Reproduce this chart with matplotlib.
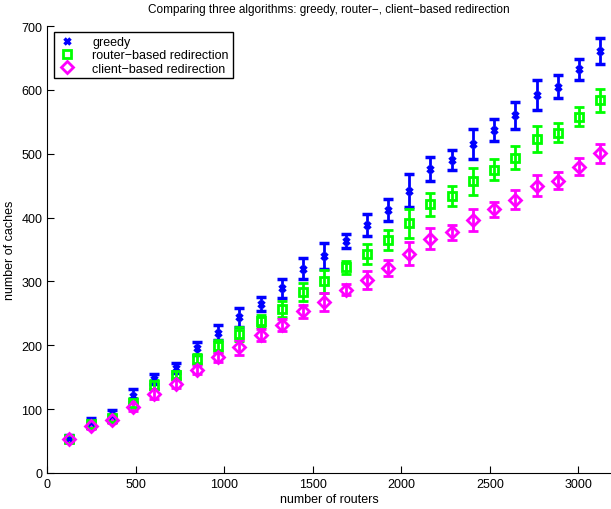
import matplotlib.pyplot as plt
from matplotlib.lines import Line2D
import numpy as np

plt.rcParams['font.family'] = ['Liberation Sans', 'DejaVu Sans']

# number of routers
routers = np.arange(125, 3126, 120)

greedy = [55, 80, 91, 121, 147, 164, 195, 220, 244, 265, 289, 320, 340,
          364, 388, 412, 442, 476, 490, 515, 537, 560, 592, 605, 632, 661]
greedy_err = [4, 6, 7, 10, 8, 8, 10, 12, 15, 11, 15, 16, 20,
              11, 17, 17, 26, 19, 16, 24, 17, 21, 23, 18, 17, 21]
router = [54, 76, 86, 110, 138, 154, 179, 199, 218, 238, 257, 283, 300,
          322, 343, 365, 391, 421, 434, 457, 475, 494, 523, 533, 558, 584]
router_err = [4, 5, 5, 8, 7, 6, 8, 9, 11, 9, 13, 14, 18,
              10, 16, 15, 23, 18, 16, 21, 16, 18, 21, 15, 15, 18]
client = [53, 74, 83, 104, 124, 139, 162, 181, 197, 216, 232, 253, 268,
          287, 302, 321, 343, 367, 377, 396, 413, 428, 450, 458, 480, 501]
client_err = [4, 5, 5, 7, 8, 6, 7, 7, 12, 10, 9, 10, 14,
              9, 14, 12, 18, 16, 12, 17, 12, 15, 16, 14, 14, 15]

fig = plt.figure(figsize=(6.11, 5.10), dpi=100)
ax = fig.add_axes([0.0774, 0.0706, 0.9226, 0.8764])

blue = (0, 0, 1)
green = (0, 1, 0)
magenta = (1, 0, 1)

ax.errorbar(routers, greedy, yerr=greedy_err, fmt='x', color=blue,
            ms=4, mew=2.5, elinewidth=2, capsize=3.6, capthick=2)
ax.errorbar(routers, router, yerr=router_err, fmt='s', color=green,
            mfc='none', ms=5.5, mew=2, elinewidth=2, capsize=3.6, capthick=2)
ax.errorbar(routers, client, yerr=client_err, fmt='D', color=magenta,
            mfc='none', ms=6, mew=2, elinewidth=2, capsize=3.6, capthick=2)

handles = [
    Line2D([], [], ls='none', marker='x', color=blue, ms=4, mew=2.5),
    Line2D([], [], ls='none', marker='s', color=green, mfc='none', ms=5.5, mew=2),
    Line2D([], [], ls='none', marker='D', color=magenta, mfc='none', ms=6, mew=2),
]
labels = ['greedy', 'router\u2212based redirection', 'client\u2212based redirection']

ax.set_xlim(0, 3185)
ax.set_ylim(0, 700)
ax.set_xticks(np.arange(0, 3001, 500))
ax.set_yticks(np.arange(0, 701, 100))
ax.tick_params(direction='in', labelsize=9, length=5)
ax.spines['top'].set_visible(False)
ax.spines['right'].set_visible(False)

ax.set_xlabel('number of routers', fontsize=9, labelpad=2)
ax.set_ylabel('number of caches', fontsize=9, labelpad=4)
ax.set_title('Comparing three algorithms: greedy, router\u2212, client\u2212based redirection',
             fontsize=8.5, pad=10)

leg = ax.legend(handles, labels, loc='upper left', fontsize=9, fancybox=False,
                edgecolor='black', framealpha=1, handletextpad=1.2,
                borderaxespad=0.5, labelspacing=0.1, handlelength=1.6,
                borderpad=0.3)
leg.get_frame().set_linewidth(1)

fig.savefig('out.png', dpi=100)
